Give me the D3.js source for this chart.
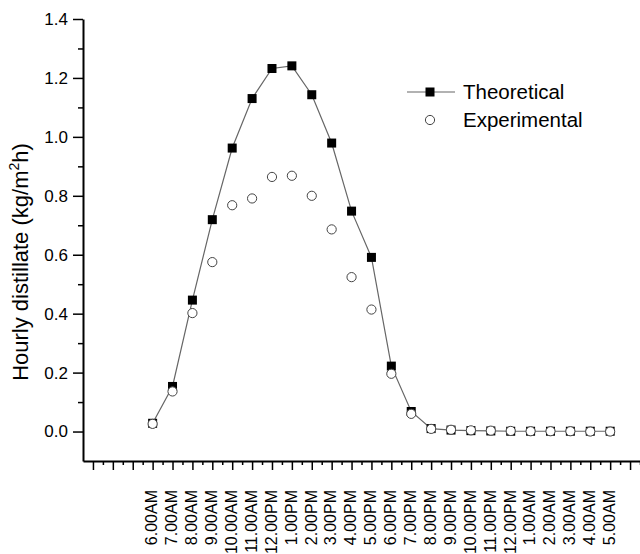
<!DOCTYPE html>
<html>
<head>
<meta charset="utf-8">
<script src="https://cdn.jsdelivr.net/npm/d3@7"></script>
<style>
  body { margin: 0; background: #fff; }
  svg { display: block; font-family: "Liberation Sans", Arial, sans-serif; }
</style>
</head>
<body>
<div id="chart"></div>
<script>
// hour labels along the x axis
var hours = ["6.00AM","7.00AM","8.00AM","9.00AM","10.00AM","11.00AM","12.00PM",
  "1.00PM","2.00PM","3.00PM","4.00PM","5.00PM","6.00PM","7.00PM","8.00PM",
  "9.00PM","10.00PM","11.00PM","12.00PM","1.00AM","2.00AM","3.00AM","4.00AM","5.00AM"];

var theoretical = [0.028,0.153,0.446,0.719,0.962,1.13,1.232,1.241,1.143,0.979,0.748,0.591,
  0.222,0.068,0.010,0.005,0.003,0.002,0.001,0.001,0.001,0.001,0.001,0.001];

var experimental = [0.026,0.136,0.402,0.575,0.768,0.791,0.864,0.868,0.800,0.686,0.524,0.414,
  0.196,0.060,0.009,0.006,0.004,0.003,0.002,0.001,0.001,0.001,0.000,0.000];

var yTicks = [0,0.2,0.4,0.6,0.8,1.0,1.2,1.4];

function init(){
  var w = 640, h = 554;

  var svg = d3.select("#chart").append("svg")
    .attr("width", w)
    .attr("height", h);

  var x = d3.scaleLinear().domain([-3.5, 24.5]).range([83, 640]);
  var y = d3.scaleLinear().domain([-0.1, 1.4]).range([461, 19]);

  // y axis: major ticks with labels, minor ticks between
  var yMinor = d3.range(0.1, 1.4, 0.2);
  svg.append("g")
    .attr("transform", "translate(83,0)")
    .call(d3.axisLeft(y).tickValues(yMinor).tickSize(5).tickSizeOuter(0).tickFormat(""))
    .call(g => g.select(".domain").remove())
    .call(g => g.selectAll("line").attr("stroke-width", 1.5));

  var yAx = svg.append("g")
    .attr("transform", "translate(83,0)")
    .call(d3.axisLeft(y).tickValues(yTicks).tickSize(10).tickSizeOuter(0).tickPadding(5)
      .tickFormat(d3.format(".1f")));
  yAx.select(".domain").attr("stroke-width", 2);
  yAx.selectAll("line").attr("stroke-width", 1.5);
  yAx.selectAll("text").attr("font-size", 17).attr("fill", "#000")
    .attr("font-family", "'Liberation Sans', Arial, sans-serif");

  // x axis
  var xMajor = d3.range(-3, 25, 1);
  var xMinor = d3.range(-2.5, 25, 1);
  svg.append("g")
    .attr("transform", "translate(0,461)")
    .call(d3.axisBottom(x).tickValues(xMinor).tickSize(4).tickSizeOuter(0).tickFormat(""))
    .call(g => g.select(".domain").remove())
    .call(g => g.selectAll("line").attr("stroke-width", 1.5));
  var xAx = svg.append("g")
    .attr("transform", "translate(0,461)")
    .call(d3.axisBottom(x).tickValues(xMajor).tickSize(9).tickSizeOuter(0).tickFormat(""));
  xAx.select(".domain").attr("stroke-width", 2);
  xAx.selectAll("line").attr("stroke-width", 1.5);

  svg.append("g").selectAll("text")
    .data(hours)
    .enter()
    .append("text")
    .attr("transform", (d, i) => "translate(" + x(i) + ",490) rotate(-90)")
    .attr("dy", "0.3em")
    .attr("text-anchor", "end")
    .attr("font-size", 16)
    .text(d => d);

  // y label
  var yl = svg.append("text")
    .attr("transform", "translate(28,262) rotate(-90)")
    .attr("text-anchor", "middle")
    .attr("font-size", 22);
  yl.append("tspan").text("Hourly distillate (kg/m");
  yl.append("tspan").attr("font-size", 14).attr("dy", -9).text("2");
  yl.append("tspan").attr("dy", 9).text("h)");

  // theoretical line + squares
  var line = d3.line()
    .x((d, i) => x(i))
    .y(d => y(d));

  svg.append("path")
    .datum(theoretical)
    .attr("d", line)
    .attr("fill", "none")
    .attr("stroke", "#666")
    .attr("stroke-width", 1.2);

  var sq = 9;
  svg.append("g").selectAll("rect")
    .data(theoretical)
    .enter()
    .append("rect")
    .attr("x", (d, i) => x(i) - sq / 2)
    .attr("y", d => y(d) - sq / 2)
    .attr("width", sq)
    .attr("height", sq)
    .attr("fill", "#000");

  svg.append("g").selectAll("circle")
    .data(experimental)
    .enter()
    .append("circle")
    .attr("cx", (d, i) => x(i))
    .attr("cy", d => y(d))
    .attr("r", 4.6)
    .attr("fill", "#fff")
    .attr("stroke", "#444")
    .attr("stroke-width", 1);

  // legend
  var lg = svg.append("g");
  lg.append("line").attr("x1", 407).attr("x2", 455).attr("y1", 92).attr("y2", 92)
    .attr("stroke", "#666").attr("stroke-width", 1.2);
  lg.append("rect").attr("x", 430 - sq / 2).attr("y", 92 - sq / 2)
    .attr("width", sq).attr("height", sq).attr("fill", "#000");
  lg.append("text").attr("x", 463).attr("y", 92).attr("dy", "0.35em")
    .attr("font-size", 20.5).text("Theoretical");
  lg.append("circle").attr("cx", 430).attr("cy", 120).attr("r", 4.6)
    .attr("fill", "#fff").attr("stroke", "#444");
  lg.append("text").attr("x", 463).attr("y", 120).attr("dy", "0.35em")
    .attr("font-size", 20.5).text("Experimental");
}
window.onload = init;
</script>
</body>
</html>
